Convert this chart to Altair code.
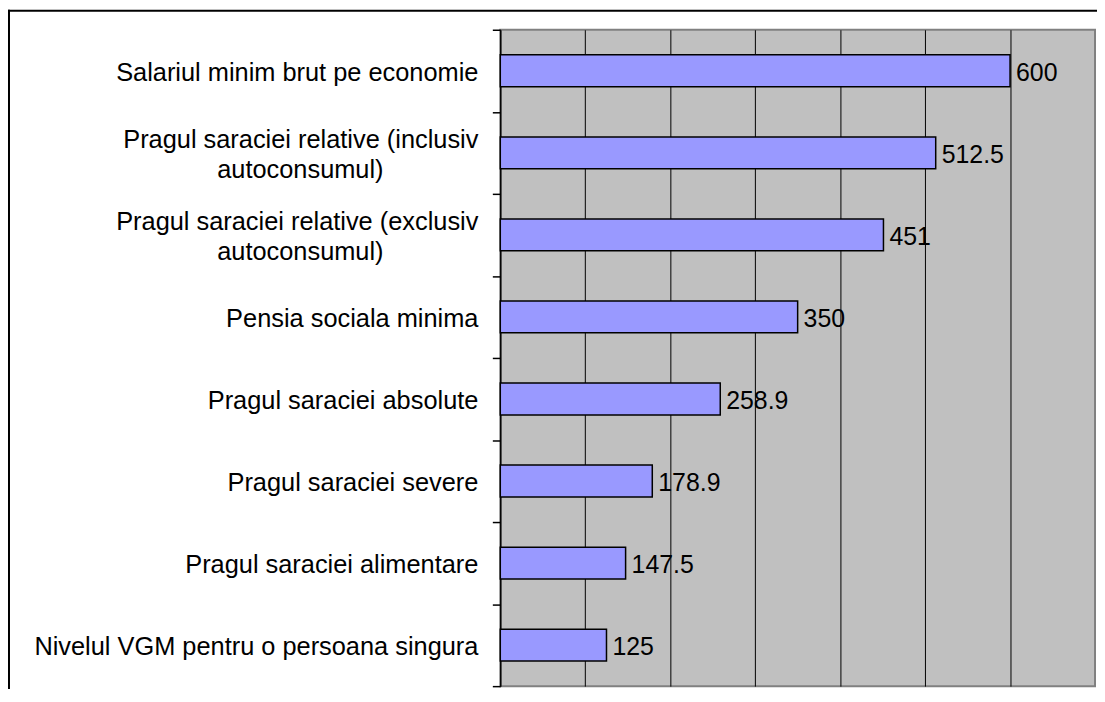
import altair as alt
import pandas as pd

categories = [
    "Salariul minim brut pe economie",
    "Pragul saraciei relative (inclusiv autoconsumul)",
    "Pragul saraciei relative (exclusiv autoconsumul)",
    "Pensia sociala minima",
    "Pragul saraciei absolute",
    "Pragul saraciei severe",
    "Pragul saraciei alimentare",
    "Nivelul VGM pentru o persoana singura",
]
label_line1 = [
    "Salariul minim brut pe economie",
    "Pragul saraciei relative (inclusiv",
    "Pragul saraciei relative (exclusiv",
    "Pensia sociala minima",
    "Pragul saraciei absolute",
    "Pragul saraciei severe",
    "Pragul saraciei alimentare",
    "Nivelul VGM pentru o persoana singura",
]
label_line2 = ["", "autoconsumul)", "autoconsumul)", "", "", "", "", ""]
values = [600, 512.5, 451, 350, 258.9, 178.9, 147.5, 125]
x_domain = [0, 700]
grid_values = [100, 200, 300, 400, 500, 600]

df = pd.DataFrame({
    "category": categories,
    "line1": label_line1,
    "line2": label_line2,
    "value": values,
})
df["wrapped"] = df["line2"] != ""

FONT = "Liberation Sans"

y_enc = alt.Y(
    "category:N",
    sort=categories,
    scale=alt.Scale(paddingInner=0, paddingOuter=0),
    axis=alt.Axis(
        labels=False, title=None, tickBand="extent", ticks=True, tickSize=8,
        tickColor="black", tickWidth=1.5, domainColor="black", domainWidth=1.5,
        grid=False,
    ),
)
x_enc = alt.X(
    "value:Q",
    scale=alt.Scale(domain=x_domain, nice=False, zero=True),
    axis=alt.Axis(
        values=grid_values, labels=False, ticks=False, domain=False, title=None,
        grid=True, gridColor="black", gridWidth=1, gridOpacity=1,
    ),
)

base = alt.Chart(df).encode(y=y_enc)

bars = base.mark_bar(size=32, color="#9999FF", stroke="black", strokeWidth=1.5).encode(x=x_enc)

value_labels = base.mark_text(
    align="left", baseline="middle", dx=6, dy=2, fontSize=25, font=FONT, color="black"
).encode(x=x_enc, text=alt.Text("value:Q", format=".1~f"))

single_labels = base.transform_filter("!datum.wrapped").mark_text(
    align="right", baseline="middle", dy=2, fontSize=25.5, font=FONT, color="black"
).encode(x=alt.value(-22), text="line1:N")

first_lines = base.transform_filter("datum.wrapped").mark_text(
    align="right", baseline="middle", dy=-13, fontSize=25.5, font=FONT, color="black"
).encode(x=alt.value(-22), text="line1:N")

second_lines = base.transform_filter("datum.wrapped").mark_text(
    align="center", baseline="middle", dy=17, fontSize=25.5, font=FONT, color="black"
).encode(x=alt.value(-201), text="line2:N")

border_left = alt.Chart(alt.Data(values=[{}])).mark_rule(color="black", strokeWidth=2).encode(
    x=alt.value(-494), y=alt.value(-20), y2=alt.value(700)
)
border_top = alt.Chart(alt.Data(values=[{}])).mark_rule(color="black", strokeWidth=2).encode(
    x=alt.value(-495), x2=alt.value(620), y=alt.value(-19)
)

chart = alt.layer(
    bars, value_labels, single_labels, first_lines, second_lines, border_left, border_top
).properties(
    width=598,
    height=660,
    padding={"left": 495, "top": 20, "right": 2, "bottom": 1},
    autosize=alt.AutoSizeParams(type="none"),
    background="white",
).configure_view(
    stroke="#808080", strokeWidth=2, fill="#C0C0C0"
)

chart.save("out.html", embed_options={"renderer": "svg", "actions": False})
